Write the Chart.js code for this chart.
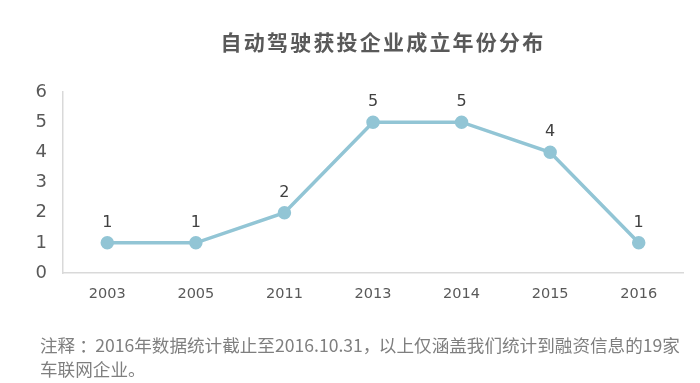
<!DOCTYPE html>
<html><head><meta charset="utf-8">
<script src="https://cdn.jsdelivr.net/npm/chart.js@4/dist/chart.umd.min.js"></script>
<style>
html,body{margin:0;padding:0;background:#fff;}
#wrap{position:relative;width:700px;height:383px;overflow:hidden;}
#title{position:absolute;left:0;width:766px;top:27px;text-align:center;font-family:"Noto Sans CJK SC";font-weight:bold;font-size:21px;letter-spacing:2.2px;color:#595959;line-height:28px;}
#note{position:absolute;left:40px;top:333px;width:660px;font-family:"Noto Sans CJK SC";font-size:17.6px;color:#7f7f7f;line-height:24px;white-space:nowrap;}
.p{display:inline-block;width:16px;text-align:center;}
canvas{position:absolute;left:0;top:0;}
</style></head><body>
<div id="wrap">
<canvas id="c" width="700" height="383"></canvas>
<div id="title">自动驾驶获投企业成立年份分布</div>
<div id="note">注释 <span class="p">：</span>2016年数据统计截止至2016.10.31<span class="p">，</span>以上仅涵盖我们统计到融资信息的19家<br>车联网企业。</div>
</div>
<script>
const categories = ["2003","2005","2011","2013","2014","2015","2016"];
const values = [1,1,2,5,5,4,1];
const yTicks = [0,1,2,3,4,5,6];

const labelPlugin = {
  id:'labels',
  afterDatasetsDraw(chart){
    const ctx = chart.ctx;
    const meta = chart.getDatasetMeta(0);
    ctx.save();
    ctx.font = '16px "DejaVu Sans"';
    ctx.fillStyle = '#404040';
    ctx.textAlign = 'center';
    ctx.textBaseline = 'middle';
    meta.data.forEach((p,i)=>{ ctx.fillText(String(values[i]), p.x, p.y - 20); });
    ctx.restore();
  }
};

new Chart(document.getElementById('c'), {
  type:'line',
  data:{labels:categories, datasets:[{data:values, borderColor:'#92c5d5', backgroundColor:'#92c5d5', borderWidth:3.5, pointRadius:5, pointHoverRadius:5, tension:0, fill:false}]},
  options:{
    responsive:false, animation:false,
    layout:{padding:{left:0,right:17,top:92,bottom:0}},
    plugins:{legend:{display:false}, tooltip:{enabled:false}, title:{display:false}},
    scales:{
      x:{offset:true, grid:{display:false, drawTicks:false}, border:{display:true,color:'#d9d9d9',width:1.5},
         ticks:{color:'#595959', font:{family:'DejaVu Sans', size:14.5}, padding:13},
         afterFit(s){ s.height = 110; }},
      y:{min:0, max:6, grid:{display:false, drawTicks:false}, border:{display:true,color:'#d9d9d9',width:1.5},
         afterBuildTicks(s){ s.ticks = yTicks.map(v=>({value:v})); },
         ticks:{color:'#595959', font:{family:'DejaVu Sans', size:18}, padding:16},
         afterFit(s){ s.width = 63; }}
    }
  },
  plugins:[labelPlugin]
});
</script>
</body></html>
